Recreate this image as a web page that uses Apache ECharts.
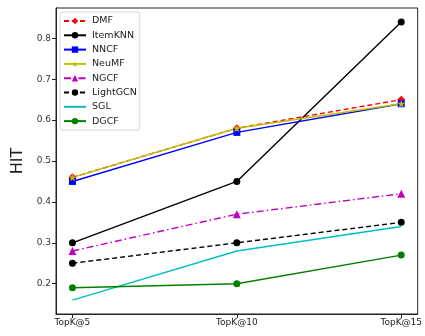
<!DOCTYPE html>
<html>
<head>
<meta charset="utf-8">
<script src="https://cdn.jsdelivr.net/npm/echarts@6/dist/echarts.min.js"></script>
<style>
  html, body { margin: 0; padding: 0; background: #fff; }
  #chart { width: 425px; height: 336px; }
</style>
</head>
<body>
<div id="chart"></div>
<script>
// Evaluation cut-offs along the x axis
const categories = ['TopK@5', 'TopK@10', 'TopK@15'];

// HIT values per model
const DMF      = [0.46, 0.58, 0.65];
const ItemKNN  = [0.30, 0.45, 0.84];
const NNCF     = [0.45, 0.57, 0.64];
const NeuMF    = [0.46, 0.58, 0.64];
const NGCF     = [0.28, 0.37, 0.42];
const LightGCN = [0.25, 0.30, 0.35];
const SGL      = [0.16, 0.28, 0.34];
const DGCF     = [0.19, 0.20, 0.27];

const yTicks = [0.2, 0.3, 0.4, 0.5, 0.6, 0.7, 0.8];

const STAR = 'path://M50,0 L61,35 L98,35 L68,57 L79,91 L50,70 L21,91 L32,57 L2,35 L39,35 Z';

function pts(arr) { return arr.map((v, i) => [i, v]); }

function line(name, data, color, opts) {
  return Object.assign({
    name: name,
    type: 'line',
    data: pts(data),
    symbol: 'circle',
    symbolSize: 7,
    showSymbol: true,
    animation: false,
    itemStyle: { color: color },
    lineStyle: { color: color, width: 1.4, type: 'solid' }
  }, opts || {});
}

const series = [
  line('DMF', DMF, '#ff0000', { symbol: 'diamond', symbolSize: 8, lineStyle: { color: '#ff0000', width: 1.4, type: [5, 3] } }),
  line('ItemKNN', ItemKNN, '#000000'),
  line('NNCF', NNCF, '#0000ff', { symbol: 'rect', symbolSize: 7 }),
  line('NeuMF', NeuMF, '#bfbf00', { symbol: STAR, symbolSize: 8 }),
  line('NGCF', NGCF, '#bf00bf', { symbol: 'triangle', symbolSize: 8, lineStyle: { color: '#bf00bf', width: 1.4, type: [7, 3, 1.5, 3] } }),
  line('LightGCN', LightGCN, '#000000', { lineStyle: { color: '#000000', width: 1.4, type: [5, 3] } }),
  // plain line, no markers (also hidden in the legend swatch)
  line('SGL', SGL, '#00bfbf', { symbol: 'none', showSymbol: false, itemStyle: { color: '#00bfbf', opacity: 0 } }),
  line('DGCF', DGCF, '#008000')
];

const chart = echarts.init(document.getElementById('chart'), null, { renderer: 'canvas' });
chart.setOption({
  backgroundColor: '#ffffff',
  animation: false,
  grid: {
    left: 56, right: 3, top: 8, bottom: 22,
    show: true, borderColor: '#222', borderWidth: 1, backgroundColor: 'transparent'
  },
  legend: {
    left: 60, top: 12,
    orient: 'vertical',
    itemWidth: 22, itemHeight: 8, itemGap: 4.3,
    padding: [4, 3, 4, 3],
    backgroundColor: '#fff',
    borderColor: '#d6d6d6', borderWidth: 1, borderRadius: 3,
    textStyle: { fontFamily: 'DejaVu Sans', fontSize: 9.5, color: '#222', padding: [0, 0, 0, 1] },
    data: series.map(s => s.name)
  },
  xAxis: {
    type: 'value',
    min: -0.1, max: 2.1,
    splitLine: { show: false },
    axisLine: { show: true, onZero: false, lineStyle: { color: '#222', width: 1 } },
    axisTick: { show: true, length: 4, customValues: [0, 1, 2], lineStyle: { color: '#222' } },
    axisLabel: {
      customValues: [0, 1, 2],
      formatter: v => categories[Math.round(v)],
      fontFamily: 'DejaVu Sans', fontSize: 9, color: '#222', margin: 4
    }
  },
  yAxis: {
    type: 'value',
    min: 0.126, max: 0.874,
    name: 'HIT',
    nameLocation: 'middle',
    nameGap: 18,
    nameTextStyle: { fontFamily: 'DejaVu Sans', fontSize: 16, color: '#222' },
    splitLine: { show: false },
    axisLine: { show: true, onZero: false, lineStyle: { color: '#222', width: 1 } },
    axisTick: { show: true, length: 4, customValues: yTicks, lineStyle: { color: '#222' } },
    axisLabel: {
      customValues: yTicks,
      formatter: v => v.toFixed(1),
      fontFamily: 'DejaVu Sans', fontSize: 9, color: '#333', margin: 5
    }
  },
  series: series
});
</script>
</body>
</html>
